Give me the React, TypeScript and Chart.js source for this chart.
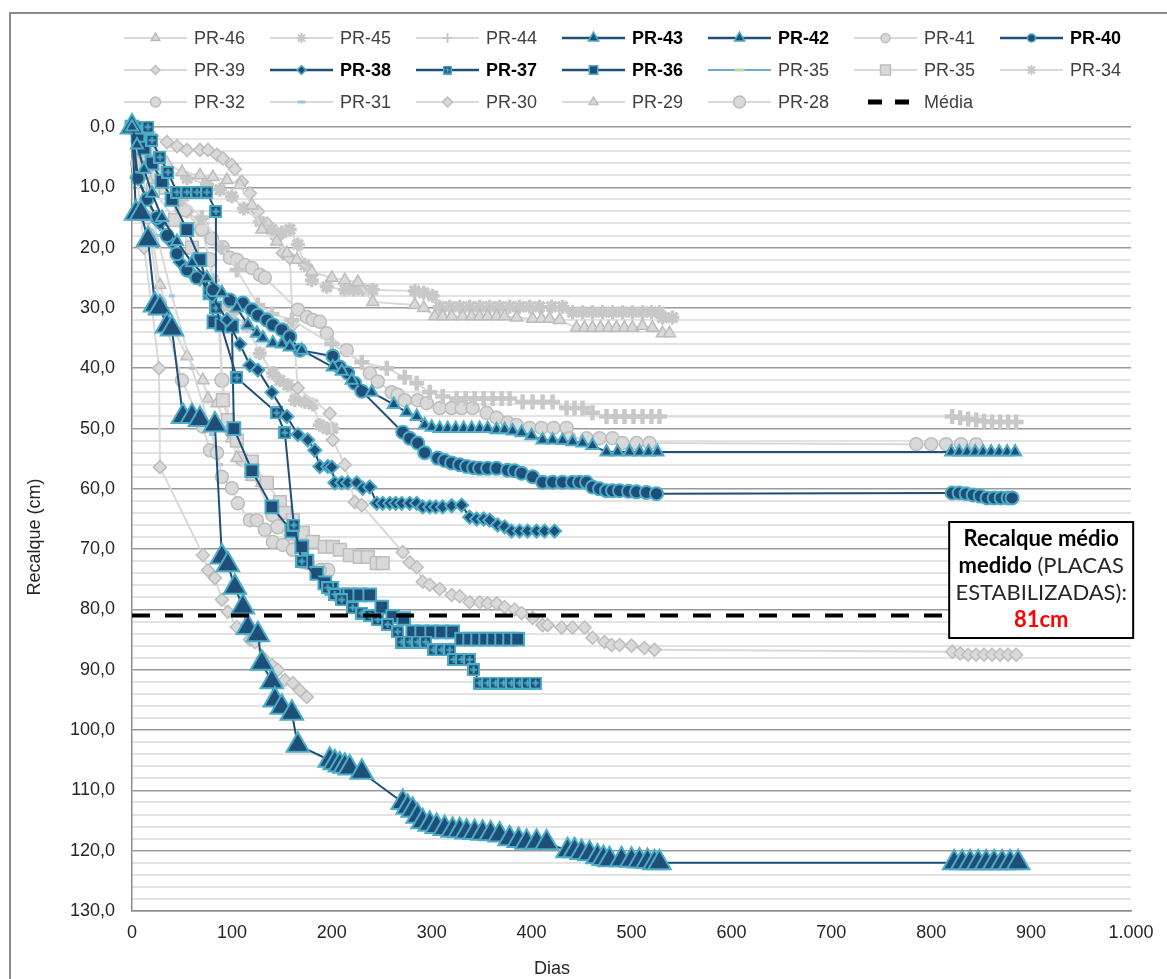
import React, { useEffect, useRef } from 'react';
import { Chart, registerables } from 'chart.js';
import { drawPoint } from 'chart.js/helpers';

Chart.register(...registerables);

type Pt = [number, number];

// ---------- axis values ----------
const X_MIN = 0;
const X_MAX = 1000;
const X_STEP = 100;
const Y_MIN = 0;
const Y_MAX = 130;
const Y_MINOR_STEP = 2;
const Y_MAJOR_STEP = 10;
const MEDIA_VALUE = 81;

// ---------- series (dias, recalque cm) ----------
const PR46: Pt[] = [[0,0],[8,2],[20,4],[35,6],[50,7.5],[68,8],[81,8.3],[95,8.8],[108,9.6],[120,13],[130,17],[145,19],[155,20.9],[165,22],[180,24],[200,25],[213,25.4],[226,25.7],[241,29],[283,29.5],[292,30],[303,31.4],[311,31.4],[320,31.4],[331,31.4],[340,31.4],[348,31.4],[356,31.4],[365,31.4],[373,31.4],[385,31.6],[401,31.8],[410,31.8],[418,31.8],[428,32],[445,33.3],[453,33.3],[461,33.3],[469,33.3],[477,33.3],[485,33.3],[493,33.3],[501,33.3],[511,33],[521,33.3],[531,34.2],[538,34.2]];
const PR45: Pt[] = [[0,0],[8,2],[20,5],[35,7],[55,8.5],[75,9.5],[88,10.4],[100,11.5],[112,13.5],[128,15.7],[140,17],[150,17.5],[158,17],[166,19.5],[173,22.9],[180,25.4],[195,26.5],[213,27],[222,27],[231,27],[241,27],[283,27.2],[292,27.5],[301,28],[308,29.8],[318,29.8],[328,29.8],[338,29.8],[348,29.8],[358,29.8],[368,29.8],[378,29.8],[388,29.8],[398,29.8],[408,29.8],[420,29.8],[431,29.8],[441,30.7],[451,30.7],[461,30.7],[471,30.7],[481,30.7],[491,30.7],[501,30.7],[511,30.7],[520,30.7],[528,30.7],[531,31.6],[541,31.6]];
const PR44: Pt[] = [[0,0],[10,3],[30,8],[50,12],[70,15],[90,20],[105,23.7],[126,29.5],[140,31],[160,32],[200,36],[230,39],[255,40],[273,41.5],[285,42.5],[298,44],[311,44.7],[325,45],[334,45],[343,45],[352,45],[361,45],[370,45],[378,45],[391,45.6],[401,45.6],[411,45.6],[421,45.6],[435,46.6],[443,46.6],[451,46.6],[461,47.4],[475,48],[484,48],[493,48],[502,48],[511,48],[520,48],[528,48],[821,48],[829,48.2],[837,48.4],[845,48.6],[853,48.8],[861,48.9],[869,48.9],[877,48.9],[885,48.9]];
const PR43: Pt[] = [[0,0],[5,3],[12,7],[20,11],[30,15],[45,19],[60,22.5],[75,25],[90,27.5],[105,30],[116,32.8],[125,34.2],[131,35],[141,35.8],[150,36],[158,36.5],[170,37],[201,39.8],[210,40.5],[220,42],[240,44],[262,46],[275,47.3],[285,48],[293,49.4],[300,49.8],[308,50],[316,50],[324,50],[332,50],[340,50],[348,50],[356,50],[365,50.2],[373,50.2],[381,50.4],[390,50.7],[400,51.2],[411,51.9],[421,51.9],[431,52],[441,52.2],[451,52.4],[461,52.8],[475,53.9],[486,53.9],[498,53.9],[508,53.9],[517,53.9],[526,53.9],[820,53.9],[828,53.9],[836,53.9],[844,53.9],[852,53.9],[860,53.9],[868,53.9],[876,53.9],[884,53.9]];
const PR42: Pt[] = [[0,0],[4,14.3],[9,14.3],[16,18.7],[23,29.5],[28,30],[35,33],[40,33.5],[51,48],[60,48],[68,48.5],[83,49.4],[90,71.3],[96,72.6],[103,76.3],[111,79.6],[116,83],[126,84.2],[130,88.9],[140,92],[143,95],[150,96.2],[160,97.2],[166,102.5],[198,105],[203,105.4],[208,105.8],[213,106],[218,106.3],[230,107],[271,112],[276,112.8],[281,113.3],[286,114.3],[291,115.2],[298,115.6],[305,116],[313,116.3],[321,116.6],[328,116.7],[335,116.9],[343,117],[351,117.1],[359,117.2],[368,117.4],[378,118],[387,118.3],[395,118.6],[405,118.6],[415,118.7],[436,120],[443,120],[450,120.3],[458,120.5],[466,121],[472,121.3],[478,121.5],[490,121.5],[500,121.6],[508,121.7],[516,121.8],[523,122],[528,122],[823,122],[831,122],[839,122],[847,122],[855,122],[863,122],[871,122],[879,122],[887,122]];
const PR41: Pt[] = [[0,0],[10,4],[25,8],[40,11],[53,13.8],[70,17],[80,18.5],[91,19.9],[98,21.7],[105,22],[113,22.9],[120,23.4],[128,24.5],[133,25],[166,30.3],[175,31.5],[181,32],[188,32.3],[195,34.2],[215,37],[238,40.8],[246,42.2],[260,44],[266,44.4],[273,45.3],[286,45.3],[295,45.8],[308,46.6],[320,46.6],[330,46.6],[341,46.6],[355,47.4],[365,48.2],[376,49],[385,49.4],[398,49.9],[410,49.9],[422,49.9],[435,49.9],[438,51.6],[455,51.6],[468,51.6],[481,51.6],[491,52.4],[505,52.4],[518,52.4],[785,52.6],[800,52.6],[815,52.6],[830,52.6],[845,52.6]];
const PR40: Pt[] = [[0,0],[6,8.5],[15,12],[25,15],[35,18],[45,21],[55,23.7],[65,25],[81,27],[98,28.7],[111,29.2],[120,30.3],[126,31.2],[135,32],[141,32.8],[150,33.6],[158,34.8],[168,37],[201,38],[208,39.8],[216,40.8],[223,42.5],[230,43.8],[271,50.6],[278,51.6],[286,52.4],[293,54],[306,54.9],[313,55.3],[320,55.7],[328,56],[335,56.3],[342,56.5],[348,56.6],[356,56.6],[365,56.6],[376,56.9],[383,57],[390,57.4],[401,58],[411,58.9],[421,58.9],[431,58.9],[441,58.9],[448,58.9],[455,58.9],[461,59.7],[468,60],[475,60.3],[481,60.3],[488,60.3],[497,60.4],[505,60.5],[515,60.6],[525,60.8],[821,60.7],[828,60.7],[835,60.8],[842,61],[849,61.2],[856,61.5],[863,61.5],[870,61.5],[877,61.5],[881,61.5]];
const PR39: Pt[] = [[0,0],[10,1],[20,1.5],[35,2.5],[45,3.2],[55,3.8],[68,3.8],[76,3.8],[85,4.6],[91,5.2],[100,6.3],[103,7],[110,9.1],[118,11],[126,14],[135,16],[145,18.4],[151,20.9],[158,21.7],[161,32.8],[166,43.3],[198,47.5],[201,51.9],[213,56],[223,62.2],[230,62.7],[271,70.5],[278,72.2],[285,73],[291,75.4],[298,75.9],[308,76.6],[320,77.6],[328,77.8],[338,78.8],[348,78.8],[356,79],[365,79],[373,79.6],[383,80],[390,80.6],[401,81.4],[411,82.6],[416,82.6],[430,83],[441,83],[453,83],[461,84.7],[473,85.4],[480,85.9],[488,85.9],[500,86],[513,86.4],[523,86.7],[821,87],[829,87.3],[837,87.5],[845,87.5],[853,87.5],[861,87.5],[869,87.5],[877,87.5],[885,87.5]];
const PR38: Pt[] = [[0,0],[5,8.4],[15,12],[28,16],[40,19.2],[48,22.4],[55,23.7],[61,24.5],[68,25.2],[80,28],[95,32],[108,36],[118,39.5],[126,40.3],[140,44],[155,48],[166,51],[176,51.9],[183,53.6],[188,56.3],[196,56.3],[200,56.4],[203,59],[210,59],[216,59],[225,59],[231,59.9],[238,59.7],[245,62.4],[251,62.4],[258,62.4],[264,62.4],[270,62.4],[278,62.4],[285,62.4],[291,63],[298,63],[304,63],[311,63],[320,62.8],[330,62.7],[338,64.7],[345,65],[352,65],[358,65.2],[366,66],[373,66.3],[380,67],[388,67],[396,67],[405,67],[413,67],[423,67]];
const PR37: Pt[] = [[0,0],[8,0],[16,0],[20,2.2],[28,5],[36,7.5],[45,10.8],[55,10.8],[65,10.8],[75,10.8],[84,14],[84,30],[105,41.6],[145,47.4],[153,50.7],[162,66],[170,72],[196,76.4],[203,77.5],[210,78.4],[221,79.7],[230,80.6],[238,81],[246,81.7],[256,82.5],[266,83.7],[270,85.4],[278,85.4],[286,85.4],[294,85.4],[302,86.7],[310,86.7],[318,86.7],[322,88.3],[330,88.3],[338,88.3],[342,90],[348,92.2],[356,92.2],[364,92.2],[372,92.2],[380,92.2],[388,92.2],[396,92.2],[404,92.2]];
const PR36: Pt[] = [[0,0],[6,1.5],[12,3.5],[20,6],[30,9],[40,12],[55,17],[68,22],[78,27.5],[82,32.3],[90,32.8],[100,33],[102,50],[120,57],[140,63],[160,67],[170,69.6],[175,72],[185,74],[193,75.6],[200,76.5],[210,77.6],[218,77.6],[228,77.6],[238,77.6],[250,79.6],[261,81.2],[272,81.5],[281,83.7],[290,83.7],[300,83.7],[310,83.7],[321,83.7],[330,84.9],[338,84.9],[346,84.9],[354,84.9],[362,84.9],[370,84.9],[378,84.9],[386,84.9]];
const PR35_LINE: Pt[] = [[0,0],[3,2],[6,4],[10,6],[15,8.5]];
const PR35: Pt[] = [[0,0],[8,3],[21,10.4],[43,15.4],[60,20],[78,26.2],[88,32.5],[91,45.3],[96,48.6],[105,52],[120,55.5],[135,59],[148,62.2],[153,64],[161,65.2],[171,67.3],[181,68.8],[193,69.6],[201,69.6],[208,70.1],[218,71],[228,71.3],[236,71.3],[245,72.3],[251,72.3]];
const PR34: Pt[] = [[0,0],[10,4],[25,9],[40,12],[55,14],[70,16],[81,25.4],[88,29.8],[100,31],[115,33],[128,37.5],[141,40.8],[148,42],[156,42.8],[163,45.3],[173,45.6],[181,46],[188,49.4],[195,50],[201,50]];
const PR32: Pt[] = [[0,0],[5,6],[15,15],[28,29.2],[50,42],[71,49.7],[78,53.6],[85,54],[90,58],[100,59.9],[106,62.4],[118,65.2],[125,65.2],[133,66.8],[141,68.8],[151,69.3],[161,70.1],[170,71.3],[176,72.3],[188,73.5]];
const PR31: Pt[] = [[0,0],[3,4.3],[6,5.5],[10,8],[16,12],[25,18],[40,28],[60,40],[80,51],[88,56]];
const PR30: Pt[] = [[0,0],[5,8],[12,20],[20,30],[27,40],[28,56.4],[71,71],[76,73.5],[83,74.8],[90,78.4],[96,80.4],[105,82.9],[118,85],[123,85.4],[131,88],[140,89.2],[146,90],[153,91.7],[161,92.2],[168,93.4],[175,94.5]];
const PR29: Pt[] = [[0,0],[6,6],[12,12],[20,18],[28,26.2],[40,33],[55,38],[71,42],[76,45],[85,45.8],[100,51.6],[105,54.9],[120,58],[130,59]];
const PR28: Pt[] = [[0,0],[10,5],[30,10],[50,13.5],[70,17],[78,22],[85,27.4],[90,42],[100,50.5],[110,55],[120,57.5],[141,64.3],[146,66.3],[160,69.5],[175,72],[190,73.5],[196,73.5]];
const MEDIA: Pt[] = [[X_MIN, MEDIA_VALUE], [X_MAX, MEDIA_VALUE]];

const BOX_LINES = ['Recalque médio', 'medido', ' (PLACAS', 'ESTABILIZADAS):', '81cm'];

// ---------- styles ----------
const NAVY = '#1f4e79';
const CYAN = '#4bacc6';
const GRAY_LINE = '#d9d9d9';
const GRAY_FILL = '#d9d9d9';
const GRAY_EDGE = '#bdbdbd';
const FONT = '"Liberation Sans", Arial, sans-serif';

type Kind = 'gray' | 'navy' | 'media' | 'lightblue' | 'grayblue';
interface Spec { label: string; data: Pt[]; kind: Kind; style: any; r: number; legendR: number; bw?: number; }

function makeSquarePlus(size: number, lw: number) {
  const c = document.createElement('canvas');
  c.width = size; c.height = size;
  const g = c.getContext('2d')!;
  g.fillStyle = NAVY;
  g.fillRect(0, 0, size, size);
  g.strokeStyle = CYAN;
  g.lineWidth = lw;
  g.strokeRect(lw / 2, lw / 2, size - lw, size - lw);
  g.beginPath();
  g.moveTo(size / 2, lw + 1); g.lineTo(size / 2, size - lw - 1);
  g.moveTo(lw + 1, size / 2); g.lineTo(size - lw - 1, size / 2);
  g.stroke();
  return c;
}

export default function App() {
  const ref = useRef<HTMLCanvasElement>(null);

  useEffect(() => {
    document.body.style.margin = '0';
    const canvas = ref.current!;
    const sqPlus = makeSquarePlus(13, 2);
    const sqPlusSmall = makeSquarePlus(9, 1.5);

    const specs: Spec[] = [
      { label: 'PR-46', data: PR46, kind: 'gray', style: 'triangle', r: 7, legendR: 5 },
      { label: 'PR-45', data: PR45, kind: 'gray', style: 'star', r: 7, legendR: 5, bw: 3.5 },
      { label: 'PR-44', data: PR44, kind: 'gray', style: 'cross', r: 7.5, legendR: 5, bw: 4.5 },
      { label: 'PR-43', data: PR43, kind: 'navy', style: 'triangle', r: 7, legendR: 6 },
      { label: 'PR-42', data: PR42, kind: 'navy', style: 'triangle', r: 13, legendR: 6 },
      { label: 'PR-41', data: PR41, kind: 'gray', style: 'circle', r: 6.5, legendR: 4.5 },
      { label: 'PR-40', data: PR40, kind: 'navy', style: 'circle', r: 6.5, legendR: 4 },
      { label: 'PR-39', data: PR39, kind: 'gray', style: 'rectRot', r: 6.5, legendR: 4.5 },
      { label: 'PR-38', data: PR38, kind: 'navy', style: 'rectRot', r: 6.5, legendR: 4.5 },
      { label: 'PR-37', data: PR37, kind: 'navy', style: sqPlus, r: 6.5, legendR: 5 },
      { label: 'PR-36', data: PR36, kind: 'navy', style: 'rect', r: 9, legendR: 6 },
      { label: 'PR-35', data: PR35_LINE, kind: 'lightblue', style: 'line', r: 3, legendR: 5, bw: 3 },
      { label: 'PR-35', data: PR35, kind: 'gray', style: 'rect', r: 9, legendR: 7 },
      { label: 'PR-34', data: PR34, kind: 'gray', style: 'star', r: 7, legendR: 5, bw: 3.5 },
      { label: 'PR-32', data: PR32, kind: 'gray', style: 'circle', r: 6.5, legendR: 5 },
      { label: 'PR-31', data: PR31, kind: 'grayblue', style: 'line', r: 3, legendR: 4, bw: 3 },
      { label: 'PR-30', data: PR30, kind: 'gray', style: 'rectRot', r: 6.5, legendR: 5 },
      { label: 'PR-29', data: PR29, kind: 'gray', style: 'triangle', r: 7, legendR: 5 },
      { label: 'PR-28', data: PR28, kind: 'gray', style: 'circle', r: 7, legendR: 6 },
      { label: 'Média', data: MEDIA, kind: 'media', style: false, r: 0, legendR: 0 },
    ];

    const isStroke = (s: Spec) => s.style === 'star' || s.style === 'cross';

    const colorsFor = (s: Spec) => {
      switch (s.kind) {
        case 'navy': return { line: NAVY, lw: 2, fill: NAVY, edge: CYAN, ebw: 2 };
        case 'media': return { line: '#000000', lw: 4, fill: '#000', edge: '#000', ebw: 0 };
        case 'lightblue': return { line: '#6fa8dc', lw: 2, fill: '#c3d69b', edge: '#c3d69b', ebw: 3 };
        case 'grayblue': return { line: GRAY_LINE, lw: 2, fill: '#9dc3e6', edge: '#9dc3e6', ebw: 3 };
        default:
          return { line: GRAY_LINE, lw: 2, fill: GRAY_FILL, edge: isStroke(s) ? '#c8c8c8' : GRAY_EDGE, ebw: s.bw ?? 1.5 };
      }
    };

    const datasets = specs.map((s) => {
      const c = colorsFor(s);
      return {
        label: s.label,
        data: s.data.map(([x, y]) => ({ x, y })),
        borderColor: c.line,
        borderWidth: c.lw,
        borderDash: s.kind === 'media' ? [18, 15] : [],
        pointStyle: s.style,
        pointRadius: s.r,
        pointBackgroundColor: c.fill,
        pointBorderColor: c.edge,
        pointBorderWidth: c.ebw,
        tension: 0,
        fill: false,
        clip: false as any,
        order: s.kind === 'media' ? 0 : s.kind === 'navy' ? 1 : 2,
      };
    });

    const framePlugin = {
      id: 'frame',
      beforeDraw(chart: any) {
        const ctx = chart.ctx;
        ctx.save();
        ctx.strokeStyle = '#8c8c8c';
        ctx.lineWidth = 2;
        ctx.beginPath();
        ctx.moveTo(10, 979);
        ctx.lineTo(10, 13);
        ctx.lineTo(1167, 13);
        ctx.stroke();
        ctx.restore();
      },
    };

    const legendPlugin = {
      id: 'gridLegend',
      afterDraw(chart: any) {
        const ctx = chart.ctx;
        specs.forEach((s, i) => {
          const c = colorsFor(s);
          const col = i % 7;
          const row = Math.floor(i / 7);
          const x0 = 124 + col * 146;
          const y = 38 + row * 32;
          ctx.save();
          ctx.strokeStyle = c.line;
          if (s.kind === 'media') {
            ctx.lineWidth = 5;
            ctx.setLineDash([14, 13]);
            ctx.beginPath(); ctx.moveTo(x0 + 14, y); ctx.lineTo(x0 + 55, y); ctx.stroke();
            ctx.setLineDash([]);
          } else {
            ctx.lineWidth = s.kind === 'navy' ? 2.5 : 2;
            ctx.beginPath(); ctx.moveTo(x0, y); ctx.lineTo(x0 + 63, y); ctx.stroke();
            ctx.fillStyle = c.fill;
            ctx.strokeStyle = c.edge;
            const bw = s.kind === 'navy' ? 1.5 : isStroke(s) ? 2 : c.ebw;
            ctx.lineWidth = bw;
            const style = s.style === sqPlus ? sqPlusSmall : s.style;
            drawPoint(ctx, { pointStyle: style, rotation: 0, radius: s.legendR, borderWidth: bw } as any, x0 + 31.5, y);
          }
          ctx.font = `${s.kind === 'navy' ? 'bold ' : ''}18px ${FONT}`;
          ctx.fillStyle = s.kind === 'navy' ? '#000000' : '#404040';
          ctx.textAlign = 'left';
          ctx.textBaseline = 'middle';
          ctx.fillText(s.label, x0 + 70, y + 1);
          ctx.restore();
        });
      },
    };

    const titlesPlugin = {
      id: 'axisTitles',
      afterDraw(chart: any) {
        const ctx = chart.ctx;
        ctx.save();
        ctx.font = `18px ${FONT}`;
        ctx.fillStyle = '#262626';
        ctx.textAlign = 'center';
        ctx.textBaseline = 'middle';
        ctx.save();
        ctx.translate(35, 537);
        ctx.rotate(-Math.PI / 2);
        ctx.fillText('Recalque (cm)', 0, 0);
        ctx.restore();
        ctx.fillText('Dias', 552, 969);
        ctx.restore();
      },
    };

    const boxPlugin = {
      id: 'noteBox',
      afterDraw(chart: any) {
        const ctx = chart.ctx;
        const x = chart.scales.x.getPixelForValue(818);
        const yTop = chart.scales.y.getPixelForValue(65.5);
        const w = 184;
        const h = 116;
        ctx.save();
        ctx.fillStyle = '#ffffff';
        ctx.fillRect(x, yTop, w, h);
        ctx.strokeStyle = '#000000';
        ctx.lineWidth = 2;
        ctx.strokeRect(x, yTop, w, h);
        const fam = 'Lato, "Open Sans", sans-serif';
        let fs = 22;
        ctx.font = `bold ${fs}px ${fam}`;
        while (ctx.measureText(BOX_LINES[0]).width > 162 && fs > 8) {
          fs -= 0.5;
          ctx.font = `bold ${fs}px ${fam}`;
        }
        const cx = x + w / 2;
        ctx.textBaseline = 'alphabetic';
        ctx.textAlign = 'center';
        ctx.fillStyle = '#000000';
        ctx.fillText(BOX_LINES[0], cx, yTop + 24);
        ctx.font = `bold ${fs}px ${fam}`;
        const wb = ctx.measureText(BOX_LINES[1]).width;
        ctx.font = `${fs}px ${fam}`;
        const wn = ctx.measureText(BOX_LINES[2]).width;
        const sx = cx - (wb + wn) / 2;
        ctx.textAlign = 'left';
        ctx.font = `bold ${fs}px ${fam}`;
        ctx.fillText(BOX_LINES[1], sx, yTop + 51);
        ctx.font = `${fs}px ${fam}`;
        ctx.fillStyle = '#262626';
        ctx.fillText(BOX_LINES[2], sx + wb, yTop + 51);
        ctx.textAlign = 'center';
        ctx.fillText(BOX_LINES[3], cx, yTop + 78);
        ctx.font = `bold ${fs}px ${fam}`;
        ctx.fillStyle = '#ff0000';
        ctx.fillText(BOX_LINES[4], cx, yTop + 105);
        ctx.restore();
      },
    };

    const chart = new Chart(canvas, {
      type: 'line',
      data: { datasets: datasets as any },
      options: {
        responsive: false,
        animation: false,
        devicePixelRatio: 1,
        events: [],
        layout: { padding: { top: 127, right: 36, bottom: 0, left: 0 } },
        plugins: { legend: { display: false }, tooltip: { enabled: false }, title: { display: false } },
        scales: {
          x: {
            type: 'linear',
            min: X_MIN,
            max: X_MAX,
            afterFit: (scale: any) => { scale.height = 68; },
            ticks: {
              stepSize: X_STEP,
              padding: 11,
              color: '#262626',
              font: { family: FONT, size: 18 },
              callback: (v: any) => Number(v).toLocaleString('de-DE'),
              maxRotation: 0,
            },
            grid: { display: false, drawTicks: false },
            border: { display: true, color: '#8c8c8c', width: 1.5 },
            title: { display: false },
          },
          y: {
            type: 'linear',
            reverse: true,
            min: Y_MIN,
            max: Y_MAX,
            afterFit: (scale: any) => { scale.width = 132; },
            ticks: {
              stepSize: Y_MINOR_STEP,
              autoSkip: false,
              padding: 17,
              color: '#262626',
              font: { family: FONT, size: 18 },
              callback: (v: any) => (Number(v) % Y_MAJOR_STEP === 0 ? Number(v).toFixed(1).replace('.', ',') : ''),
            },
            grid: {
              drawTicks: false,
              color: (c: any) => (c.tick && c.tick.value % Y_MAJOR_STEP === 0 ? '#9a9a9a' : '#e3e3e3'),
              lineWidth: (c: any) => (c.tick && c.tick.value % Y_MAJOR_STEP === 0 ? 1.5 : 2),
            },
            border: { display: true, color: '#8c8c8c', width: 1.5 },
            title: { display: false },
          },
        },
      },
      plugins: [framePlugin, legendPlugin, titlesPlugin, boxPlugin],
    });

    return () => chart.destroy();
  }, []);

  return <canvas ref={ref} width={1167} height={979} style={{ display: 'block', width: 1167, height: 979 }} />;
}
